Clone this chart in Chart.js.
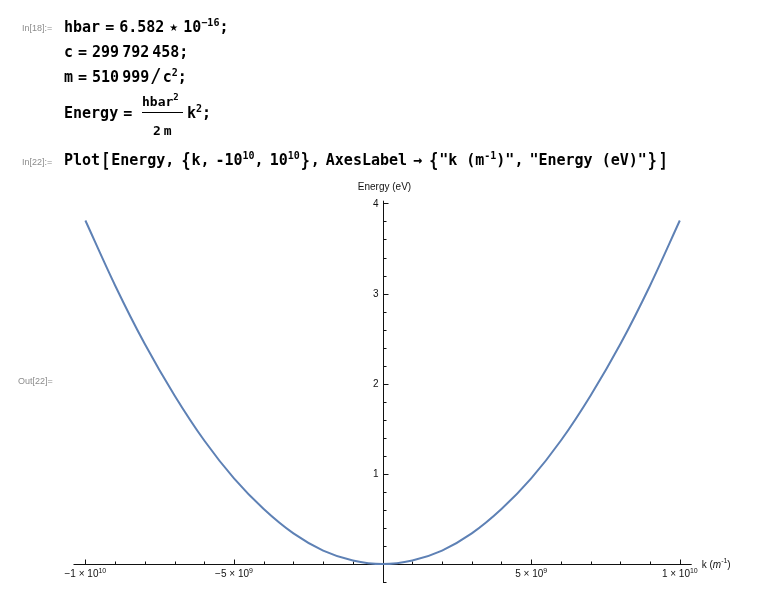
<!DOCTYPE html>
<html>
<head>
<meta charset="utf-8">
<script src="https://cdn.jsdelivr.net/npm/chart.js@4/dist/chart.umd.min.js"></script>
<style>
  body { margin: 0; background: #fff; }
  #page { position: relative; width: 773px; height: 614px; overflow: hidden; }
  #chart { position: absolute; left: 0; top: 0; }
  .lbl { position: absolute; font: 9px 'Liberation Sans', Arial, sans-serif; line-height: 12px; color: #8c8c8c; white-space: nowrap; }
  .code { position: absolute; font: bold 15px 'DejaVu Sans Mono', monospace; line-height: 20px; color: #000; white-space: nowrap; }
  .code sup { font-size: 10px; line-height: 0; vertical-align: 6px; }
  .frac { font-size: 13px; line-height: 16px; }
  .frac sup { font-size: 9px; }
  .bar { position: absolute; height: 1px; background: #000; }
  .tall { display: inline-block; transform: scaleY(1.35); margin: 0 1px; }
  .n { display: inline-block; width: 5px; }
  .t { display: inline-block; width: 3px; }
  .w { display: inline-block; width: 6px; }
  .q { display: inline-block; width: 9px; }
  .star { display: inline-block; font: 10px 'DejaVu Sans', sans-serif; vertical-align: 1px; }
  .slash { display: inline-block; font-weight: normal; font-size: 19px; line-height: 0; margin: 0 1px; }
</style>
</head>
<body>
<div id="page">
  <canvas id="chart" width="773" height="614"></canvas>

  <div class="lbl" style="left:22px;top:22px">In[18]:=</div>
  <div class="code" style="left:64px;top:16.5px">hbar<span class="n"></span>=<span class="n"></span>6.582<span class="n"></span><span class="star">★</span><span class="n"></span>10<sup>−16</sup>;</div>
  <div class="code" style="left:64px;top:41.5px">c<span class="n"></span>=<span class="n"></span>299<span class="t"></span>792<span class="t"></span>458;</div>
  <div class="code" style="left:64px;top:67px">m<span class="n"></span>=<span class="n"></span>510<span class="t"></span>999<span class="slash">/</span>c<sup>2</sup>;</div>
  <div class="code" style="left:64px;top:102.5px">Energy<span class="n"></span>=</div>
  <div class="code frac" style="left:142px;top:94px">hbar<sup>2</sup></div>
  <div class="bar" style="left:142px;top:112px;width:41px"></div>
  <div class="code frac" style="left:153px;top:122.5px">2<span class="t"></span>m</div>
  <div class="code" style="left:187px;top:102.5px">k<sup>2</sup>;</div>

  <div class="lbl" style="left:22px;top:156px">In[22]:=</div>
  <div class="code" style="left:64px;top:150px">Plot<span class="tall">[</span>Energy,<span class="w"></span><span class="tall">{</span>k,<span class="w"></span>-10<sup>10</sup>,<span class="w"></span>10<sup>10</sup><span class="tall">}</span>,<span class="w"></span>AxesLabel<span class="w"></span>→<span class="w"></span><span class="tall">{</span>"k<span class="q"></span>(m<sup>-1</sup>)",<span class="w"></span>"Energy<span class="q"></span>(eV)"<span class="tall">}</span><span class="tall">]</span></div>

  <div class="lbl" style="left:18px;top:375px">Out[22]=</div>
</div>

<script>
// values
const kValues = [-1.0e10, -9e9, -8e9, -7e9, -6e9, -5e9, -4e9, -3e9, -2e9, -1e9, 0,
  1e9, 2e9, 3e9, 4e9, 5e9, 6e9, 7e9, 8e9, 9e9, 1.0e10]
const energyValues = [3.81, 3.09, 2.44, 1.87, 1.37, 0.95, 0.61, 0.34, 0.15, 0.04, 0.0,
  0.04, 0.15, 0.34, 0.61, 0.95, 1.37, 1.87, 2.44, 3.09, 3.81]

const xTickValues = [-1e10, -9e9, -8e9, -7e9, -6e9, -5e9, -4e9, -3e9, -2e9, -1e9, 0,
  1e9, 2e9, 3e9, 4e9, 5e9, 6e9, 7e9, 8e9, 9e9, 1e10]
const xMajorTicks = [-1e10, -5e9, 5e9, 1e10]
const xTickMantissa = ['\u22121', '\u22125', '5', '1']
const xTickExponent = ['10', '9', '9', '10']

const yTickValues = [-0.2, 0, 0.2, 0.4, 0.6, 0.8, 1, 1.2, 1.4, 1.6, 1.8, 2, 2.2, 2.4, 2.6, 2.8, 3, 3.2, 3.4, 3.6, 3.8, 4]
const yMajorTicks = [1, 2, 3, 4]
const yTickLabels = ['1', '2', '3', '4']

const xAxisTitle = 'k'
const xAxisUnit = 'm'
const xAxisUnitExp = '-1'
const yAxisTitle = 'Energy (eV)'

const lineColor = 'rgb(94, 129, 181)'
const FONT = '"Liberation Sans", Arial, sans-serif'

function isMajor(list, v) {
  return list.some((m) => Math.abs(m - v) < 1e-6 * Math.max(1, Math.abs(m)))
}

// axis lines, inward tick marks and labels like Mathematica
const axesPlugin = {
  id: 'mmaAxes',
  beforeDatasetsDraw(chart) {
    const { ctx, chartArea } = chart
    const xs = chart.scales.x
    const ys = chart.scales.y
    const x0 = Math.round(xs.getPixelForValue(0)) + 0.5
    const y0 = Math.round(ys.getPixelForValue(0)) + 0.5
    ctx.save()
    ctx.strokeStyle = '#111'
    ctx.lineWidth = 1
    ctx.beginPath()
    ctx.moveTo(chartArea.left, y0)
    ctx.lineTo(chartArea.right, y0)
    ctx.moveTo(x0, chartArea.top)
    ctx.lineTo(x0, chartArea.bottom)
    xTickValues.forEach((v) => {
      if (v === 0) return
      const px = Math.round(xs.getPixelForValue(v)) + 0.5
      const len = isMajor(xMajorTicks, v) ? 5 : 3
      ctx.moveTo(px, y0)
      ctx.lineTo(px, y0 - len)
    })
    yTickValues.forEach((v) => {
      if (v === 0) return
      const py = Math.round(ys.getPixelForValue(v)) + 0.5
      const len = isMajor(yMajorTicks, v) ? 5 : 3
      ctx.moveTo(x0, py)
      ctx.lineTo(x0 + len, py)
    })
    ctx.stroke()

    ctx.fillStyle = '#111'
    ctx.textBaseline = 'middle'

    // y tick labels
    ctx.font = '10px ' + FONT
    ctx.textAlign = 'right'
    yMajorTicks.forEach((v, i) => {
      ctx.fillText(yTickLabels[i], x0 - 5, ys.getPixelForValue(v) + 0.5)
    })

    // x tick labels: "m × 10^e"
    ctx.textAlign = 'left'
    xMajorTicks.forEach((v, i) => {
      const px = xs.getPixelForValue(v)
      ctx.font = '10px ' + FONT
      const main = xTickMantissa[i] + ' \u00d7 10'
      const wMain = ctx.measureText(main).width
      ctx.font = '7px ' + FONT
      const wExp = ctx.measureText(xTickExponent[i]).width
      let tx = px - (wMain + wExp) / 2
      ctx.font = '10px ' + FONT
      ctx.fillText(main, tx, y0 + 10)
      ctx.font = '7px ' + FONT
      ctx.fillText(xTickExponent[i], tx + wMain, y0 + 7)
    })

    // axis titles
    ctx.font = '10px ' + FONT
    ctx.textAlign = 'center'
    ctx.fillText(yAxisTitle, x0 + 1, chartArea.top - 13)

    ctx.textAlign = 'left'
    let tx = chartArea.right + 10
    const ty = y0 + 1
    ctx.fillText(xAxisTitle + ' (', tx, ty)
    tx += ctx.measureText(xAxisTitle + ' (').width
    ctx.font = 'italic 10px ' + FONT
    ctx.fillText(xAxisUnit, tx, ty)
    tx += ctx.measureText(xAxisUnit).width
    ctx.font = '7px ' + FONT
    ctx.fillText(xAxisUnitExp, tx, ty - 4)
    tx += ctx.measureText(xAxisUnitExp).width
    ctx.font = '10px ' + FONT
    ctx.fillText(')', tx, ty)
    ctx.restore()
  },
}

const ctx = document.getElementById('chart')

new Chart(ctx, {
  type: 'line',
  data: {
    datasets: [
      {
        data: kValues.map((k, i) => ({ x: k, y: energyValues[i] })),
        borderColor: lineColor,
        borderWidth: 2,
        pointRadius: 0,
        fill: false,
        cubicInterpolationMode: 'monotone',
      },
    ],
  },
  options: {
    responsive: false,
    animation: false,
    devicePixelRatio: 1,
    layout: { padding: { left: 73.5, right: 81.3, top: 200.7, bottom: 31 } },
    plugins: { legend: { display: false }, tooltip: { enabled: false } },
    scales: {
      x: {
        type: 'linear',
        min: -1.04e10,
        max: 1.04e10,
        position: { y: 0 },
        grid: { display: false, drawTicks: false },
        border: { display: false },
        afterBuildTicks: (scale) => {
          scale.ticks = xTickValues.map((v) => ({ value: v }))
        },
        ticks: { display: false },
      },
      y: {
        type: 'linear',
        min: -0.21,
        max: 4.03,
        position: { x: 0 },
        grid: { display: false, drawTicks: false },
        border: { display: false },
        afterBuildTicks: (scale) => {
          scale.ticks = yTickValues.map((v) => ({ value: v }))
        },
        ticks: { display: false },
      },
    },
  },
  plugins: [axesPlugin],
})
</script>
</body>
</html>
